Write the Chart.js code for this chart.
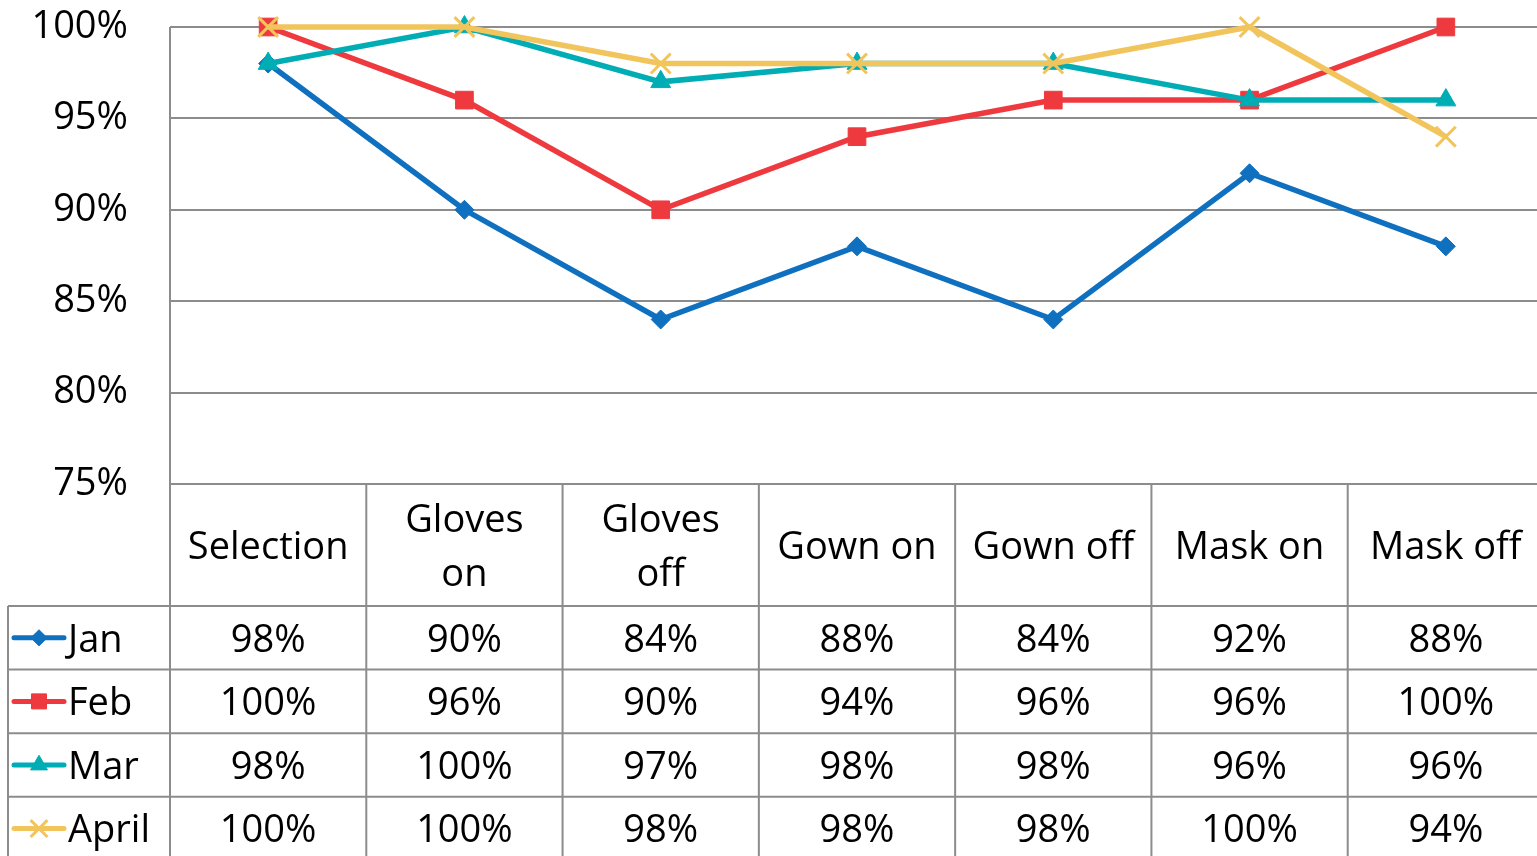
<!DOCTYPE html>
<html>
<head>
<meta charset="utf-8">
<script src="https://cdn.jsdelivr.net/npm/chart.js@4/dist/chart.umd.min.js"></script>
<style>
html,body{margin:0;padding:0;background:#fff;overflow:hidden;}
#wrap{width:1549px;height:860px;position:relative;}
</style>
</head>
<body>
<div id="wrap"><canvas id="c" width="1549" height="860" style="width:1549px;height:860px"></canvas></div>
<script>
const categories = [["Selection"], ["Gloves", "on"], ["Gloves", "off"], ["Gown on"], ["Gown off"], ["Mask on"], ["Mask off"]];
const seriesNames = ["Jan", "Feb", "Mar", "April"];
const jan = [98, 90, 84, 88, 84, 92, 88];
const feb = [100, 96, 90, 94, 96, 96, 100];
const mar = [98, 100, 97, 98, 98, 96, 96];
const april = [100, 100, 98, 98, 98, 100, 94];
const yTicks = [75, 80, 85, 90, 95, 100];

const colors = ["#1070c0", "#ee3a3e", "#00adb5", "#f2c55c"];
const styles = ["rectRot", "rect", "triangle", "crossRot"];
const radii = [9.5, 12.5, 11.5, 14];
const allSeries = [jan, feb, mar, april];
const FONT = '"Open Sans", "Noto Sans", sans-serif';
const FS = 38;
const GRID = "#8c8c8c";

const datasets = allSeries.map((d, i) => ({
  label: seriesNames[i],
  data: d,
  borderColor: colors[i],
  backgroundColor: colors[i],
  pointBackgroundColor: colors[i],
  pointBorderColor: colors[i],
  pointStyle: styles[i],
  pointRadius: radii[i],
  pointBorderWidth: i === 3 ? 3 : 1,
  borderWidth: 5.5,
  tension: 0,
  clip: false,
  order: 3 - i
}));

const tablePlugin = {
  id: "dataTable",
  afterDraw(chart) {
    const ctx = chart.ctx;
    const xs = chart.scales.x;
    const ca = chart.chartArea;
    const step = xs.getPixelForValue(1) - xs.getPixelForValue(0);
    const top = ca.bottom;
    const headerH = 122;
    const rowH = 63.6;
    const leftX = 8;
    const right = chart.width;
    const tdy = 3;
    ctx.save();
    ctx.strokeStyle = GRID;
    ctx.lineWidth = 2;
    ctx.beginPath();
    ctx.moveTo(ca.left, ca.top);
    ctx.lineTo(ca.left, chart.height);
    ctx.stroke();
    for (let r = 0; r <= seriesNames.length; r++) {
      const y = top + headerH + r * rowH;
      ctx.beginPath();
      ctx.moveTo(leftX, y);
      ctx.lineTo(right, y);
      ctx.stroke();
    }
    for (let i = 0; i <= categories.length; i++) {
      const x = xs.getPixelForValue(i) - step / 2;
      ctx.beginPath();
      ctx.moveTo(x, top);
      ctx.lineTo(x, chart.height);
      ctx.stroke();
    }
    ctx.beginPath();
    ctx.moveTo(leftX, top + headerH);
    ctx.lineTo(leftX, chart.height);
    ctx.stroke();

    ctx.fillStyle = "#000";
    ctx.font = FS + "px " + FONT;
    ctx.textAlign = "center";
    ctx.textBaseline = "middle";
    categories.forEach((lines, i) => {
      const x = xs.getPixelForValue(i);
      const cy = top + headerH / 2 + tdy;
      const lh = 54;
      lines.forEach((t, k) => {
        ctx.fillText(t, x, cy + (k - (lines.length - 1) / 2) * lh);
      });
    });
    allSeries.forEach((d, r) => {
      const cy = top + headerH + r * rowH + rowH / 2;
      ctx.fillStyle = "#000";
      d.forEach((v, i) => {
        ctx.fillText(v + "%", xs.getPixelForValue(i), cy + tdy);
      });
      ctx.strokeStyle = colors[r];
      ctx.lineWidth = 5;
      ctx.lineCap = "round";
      ctx.beginPath();
      ctx.moveTo(14, cy);
      ctx.lineTo(64, cy);
      ctx.stroke();
      ctx.lineCap = "butt";
      ctx.fillStyle = colors[r];
      ctx.strokeStyle = colors[r];
      ctx.lineWidth = r === 3 ? 3 : 1;
      Chart.helpers.drawPoint(ctx, {
        pointStyle: styles[r],
        radius: radii[r] * 0.85,
        borderWidth: r === 3 ? 3 : 1,
        rotation: 0
      }, 39, cy);
      ctx.fillStyle = "#000";
      ctx.textAlign = "left";
      ctx.fillText(seriesNames[r], 68, cy + tdy);
      ctx.textAlign = "center";
    });
    ctx.restore();
  }
};

const chart = new Chart(document.getElementById("c"), {
  type: "line",
  data: { labels: categories.map(c => c.join(" ")), datasets },
  options: {
    responsive: false,
    animation: false,
    devicePixelRatio: 1,
    layout: { autoPadding: false, padding: { top: 27, left: 0, right: 5, bottom: 0 } },
    plugins: { legend: { display: false }, tooltip: { enabled: false } },
    scales: {
      x: {
        offset: true,
        grid: { display: false, drawTicks: false },
        border: { display: false },
        ticks: { display: false },
        afterFit(s) { s.height = 376; s.paddingLeft = 0; s.paddingRight = 0; s.paddingTop = 0; s.paddingBottom = 0; }
      },
      y: {
        min: 75,
        max: 100,
        afterBuildTicks(s) { s.ticks = yTicks.map(v => ({ value: v })); },
        grid: { color: GRID, lineWidth: 2, drawTicks: false },
        border: { display: false },
        ticks: {
          padding: 42,
          color: "#000",
          font: { family: FONT, size: FS },
          callback: v => v + "%"
        },
        afterFit(s) { s.width = 170; s.paddingLeft = 0; s.paddingRight = 0; s.paddingTop = 0; s.paddingBottom = 0; }
      }
    }
  },
  plugins: [tablePlugin]
});
</script>
</body>
</html>
